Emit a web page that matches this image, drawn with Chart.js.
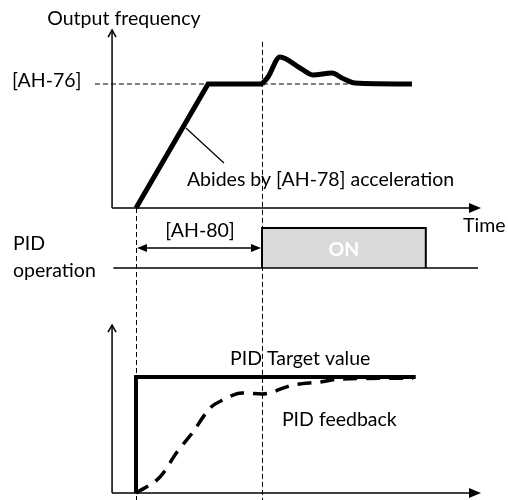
<!DOCTYPE html>
<html>
<head>
<meta charset="utf-8">
<script src="https://cdn.jsdelivr.net/npm/chart.js@4/dist/chart.umd.min.js"></script>
<style>
  html, body { margin: 0; padding: 0; background: #fff; }
  #wrap { width: 508px; height: 500px; }
</style>
</head>
<body>
<div id="wrap"><canvas id="pid" width="508" height="500"></canvas></div>
<script>
// time in seconds ([AH-80] delay = 5 s), frequency and feedback in % of target
var rampTime = [0, 2.86, 5.0];
var rampFreq = [0, 100, 100];
var bumpTime = [5.0, 5.24, 5.71, 6.51, 7.02, 7.78, 8.17, 8.69, 10.95];
var bumpFreq = [100, 105.6, 121.8, 112.9, 107.3, 108.9, 104.8, 100.8, 100];
var pidOnTime = [5.0, 11.5];      // PID operation switches on / off
var targetTime = [0, 0, 11.1];
var targetValue = [0, 100, 100];
var feedbackTime = [0, 0.95, 1.63, 2.26, 2.94, 3.45, 4.21, 5.0, 6.23, 7.3, 8.1, 11.0];
var feedbackValue = [0, 13.8, 35.3, 52.6, 73.3, 80.2, 86.2, 85.3, 93.1, 95.7, 98.3, 99];
var ah76 = 100;
var ah80 = 5.0;
var axisStart = -0.95, axisEnd = 13.65, baseEnd = 13.57;
var freqTop = 143.5, fbTop = 144.8;

// value range of a hidden scale from two anchor values and their pixels
function span(v0, p0, v1, p1, size) {
    var k = (v1 - v0) / (p1 - p0);
    var a = v0 - p0 * k, b = v0 + (size - p0) * k;
    return { min: Math.min(a, b), max: Math.max(a, b), display: false, type: 'linear' };
}

function pts(xs, ys) {
    return xs.map(function(x, i) { return { x: x, y: ys[i] }; });
}

function line(data, axis, width, extra) {
    var ds = {
        data: data, yAxisID: axis, showLine: true, pointRadius: 0,
        borderColor: '#000', borderWidth: width, fill: false, tension: 0
    };
    for (var k in extra) ds[k] = extra[k];
    return ds;
}

var labels = [
    { text: 'Output frequency', x: -0.48, y: 147.6, axis: 'yFreq', align: 'center' },
    { text: '[AH-76]', x: -4.92, y: 97.6, axis: 'yFreq', align: 'left' },
    { text: 'Abides by [AH-78] acceleration', x: 2.02, y: 17.7, axis: 'yFreq', align: 'left' },
    { text: 'Time', x: 12.98, y: -19.4, axis: 'yFreq', align: 'left' },
    { text: '[AH-80]', x: 2.54, y: 0.78, axis: 'yPid', align: 'center' },
    { text: 'PID', x: -4.88, y: 0.45, axis: 'yPid', align: 'left' },
    { text: 'operation', x: -4.88, y: -0.225, axis: 'yPid', align: 'left' },
    { text: 'ON', x: 8.25, y: 0.3, axis: 'yPid', align: 'center', bold: true, color: '#fff' },
    { text: 'PID Target value', x: 3.73, y: 110.3, axis: 'yFb', align: 'left' },
    { text: 'PID feedback', x: 5.79, y: 57.8, axis: 'yFb', align: 'left' }
];

var diagramPlugin = {
    id: 'diagram',
    beforeDatasetsDraw: function(chart) {
        var c = chart.ctx, x = chart.scales.x, yf = chart.scales.yFreq;
        c.save();
        c.strokeStyle = '#000';
        c.lineWidth = 1;
        c.setLineDash([5, 3]);
        [[0, 0], [ah80, 134]].forEach(function(g) {
            var px = Math.round(x.getPixelForValue(g[0])) + 0.5;
            c.beginPath();
            c.moveTo(px, yf.getPixelForValue(g[1]));
            c.lineTo(px, chart.chartArea.bottom);
            c.stroke();
        });
        c.restore();
    },
    afterDatasetsDraw: function(chart) {
        var c = chart.ctx, x = chart.scales.x, s = chart.scales;
        c.save();
        c.fillStyle = '#000';
        c.strokeStyle = '#000';
        function tri(px, py, dir, len, half) {
            c.beginPath();
            c.moveTo(px, py);
            c.lineTo(px - dir * len, py - half);
            c.lineTo(px - dir * len, py + half);
            c.closePath();
            c.fill();
        }
        function chevron(px, py) {
            c.lineWidth = 1.5;
            c.beginPath();
            c.moveTo(px - 4, py + 7);
            c.lineTo(px, py);
            c.lineTo(px + 4, py + 7);
            c.stroke();
        }
        var ax = x.getPixelForValue(axisStart);
        chevron(ax, s.yFreq.getPixelForValue(freqTop));
        chevron(ax, s.yFb.getPixelForValue(fbTop));
        tri(x.getPixelForValue(axisEnd) + 1, s.yFreq.getPixelForValue(0), 1, 12, 5);
        tri(x.getPixelForValue(axisEnd) + 1, s.yFb.getPixelForValue(0), 1, 12, 5);
        var ay = s.yPid.getPixelForValue(0.5);
        tri(x.getPixelForValue(0) + 1, ay, -1, 10, 4);
        tri(x.getPixelForValue(ah80) - 1, ay, 1, 10, 4);

        c.textBaseline = 'alphabetic';
        labels.forEach(function(l) {
            c.font = (l.bold ? 'bold ' : '') + '19.5px Lato, sans-serif';
            c.fillStyle = l.color || '#000';
            c.textAlign = l.align;
            c.fillText(l.text, x.getPixelForValue(l.x), s[l.axis].getPixelForValue(l.y));
        });
        c.restore();
    }
};

var chart = new Chart(document.getElementById('pid'), {
    type: 'scatter',
    data: {
        datasets: [
            line(pts(rampTime, rampFreq), 'yFreq', 5, { borderJoinStyle: 'miter' }),
            line(pts(bumpTime, bumpFreq), 'yFreq', 5, { cubicInterpolationMode: 'monotone', borderCapStyle: 'butt' }),
            line(pts([-1.63, 8.5], [ah76, ah76]), 'yFreq', 1, { borderDash: [5, 3] }),
            line(pts([axisStart, axisStart], [0, freqTop]), 'yFreq', 1.5),
            line(pts([axisStart, axisEnd - 0.3], [0, 0]), 'yFreq', 1.5),
            line(pts([1.98, 3.49], [64.5, 36.3]), 'yFreq', 1.2),
            line(pts([0.2, ah80 - 0.2], [0.5, 0.5]), 'yPid', 1.5),
            line(pts([axisStart + 0.05, baseEnd], [0, 0]), 'yPid', 1.5),
            line(pts([pidOnTime[0], pidOnTime[0], pidOnTime[1], pidOnTime[1]], [0, 1, 1, 0]), 'yPid', 2,
                { fill: 'origin', backgroundColor: '#d9d9d9' }),
            line(pts(targetTime, targetValue), 'yFb', 4),
            line(pts(feedbackTime, feedbackValue), 'yFb', 3.5, { borderDash: [14, 9], cubicInterpolationMode: 'monotone' }),
            line(pts([axisStart, axisStart], [0, fbTop]), 'yFb', 1.5),
            line(pts([axisStart, axisEnd - 0.3], [0, 0]), 'yFb', 1.5)
        ]
    },
    options: {
        responsive: false,
        animation: false,
        layout: { padding: 0 },
        plugins: { legend: { display: false }, tooltip: { enabled: false } },
        scales: {
            x: span(0, 136, ah80, 262, 508),
            yFreq: span(0, 208, 100, 84, 500),
            yPid: span(0, 268, 1, 228, 500),
            yFb: span(0, 493, 100, 377, 500)
        }
    },
    plugins: [diagramPlugin]
});
</script>
</body>
</html>
